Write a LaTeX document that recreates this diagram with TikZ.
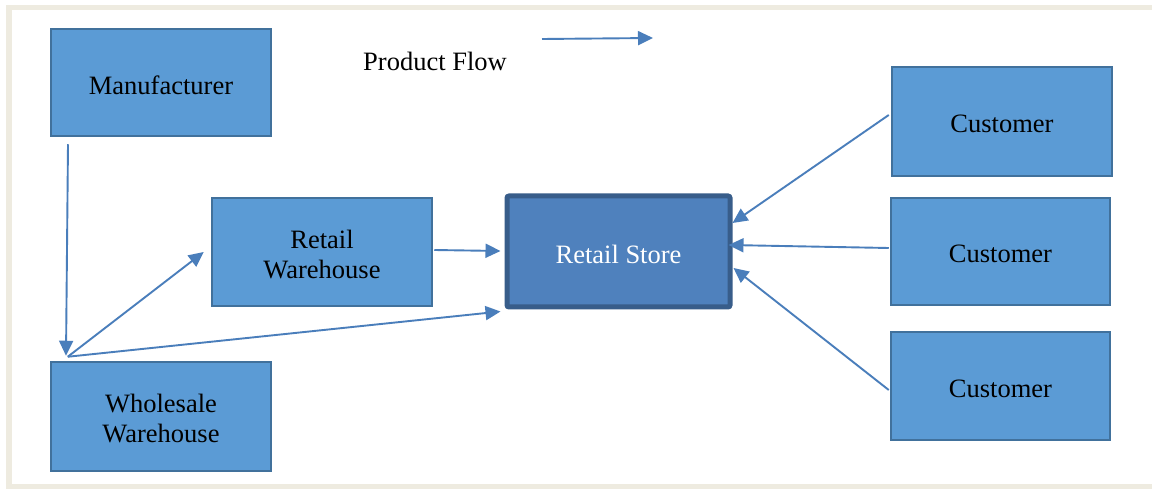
\documentclass[tikz,border=0pt]{standalone}
\usepackage{fontspec}
\setmainfont{Liberation Serif}
\usetikzlibrary{arrows.meta,calc}

\definecolor{boxfill}{HTML}{5B9BD5}
\definecolor{boxline}{HTML}{41719C}
\definecolor{storefill}{HTML}{4F81BD}
\definecolor{storeline}{HTML}{385D8A}
\definecolor{flowline}{HTML}{4A7EBB}
\definecolor{framebeige}{HTML}{EEEBE0}

% lower the ink of a text line a little without changing its box
\newcommand{\lowr}[1]{\raisebox{-2.5pt}[\height][\depth]{#1}}

\tikzset{
  unit/.style={rectangle, fill=boxfill, draw=boxline, line width=2.5pt,
    align=center, text=black, inner sep=0pt,
    font=\fontsize{26.5}{30}\selectfont},
  store/.style={unit, fill=storefill, draw=storeline, line width=5pt,
    rounded corners=2pt, text=white},
  flow/.style={draw=flowline, line width=1.9pt,
    -{Triangle[length=15pt,width=14pt]}},
  legendtext/.style={font=\fontsize{26.5}{30}\selectfont, inner sep=0pt}
}

\begin{document}
\begin{tikzpicture}[x=1pt,y=-1pt]
  \useasboundingbox (0,0) rectangle (1152,489);

  % page frame
  \fill[framebeige] (6,5) rectangle (1152,489);
  \fill[white] (12,10) rectangle (1152,484);

  % boxes
  \node[unit, minimum width=220pt, minimum height=107pt] (man) at (161,82.5) {\lowr{Manufacturer}};
  \node[unit, minimum width=220pt, minimum height=108pt] (rw) at (322,252) {\lowr{Retail}\\\lowr{Warehouse}};
  \node[store, minimum width=223pt, minimum height=111pt] (rs) at (618.5,251.5) {\lowr{Retail Store}};
  \node[unit, minimum width=220pt, minimum height=109pt] (ww) at (161,416.5) {\lowr{Wholesale}\\\lowr{Warehouse}};
  \node[unit, minimum width=220pt, minimum height=109pt] (c1) at (1002,121.5) {\lowr{Customer}};
  \node[unit, minimum width=219pt, minimum height=107pt] (c2) at (1000.5,251.5) {\lowr{Customer}};
  \node[unit, minimum width=219pt, minimum height=108pt] (c3) at (1000.5,386) {\lowr{Customer}};

  % legend
  \node[legendtext] (pf) at (435,61) {Product Flow};
  \coordinate (legA) at (542,39);
  \coordinate (legB) at (653,38);
  \draw[flow] (legA) -- (legB);

  % product flow connectors
  \draw[flow] ($(man.south)+(-93,7)$) -- ($(ww.north)+(-95,-5)$);
  \draw[flow] ($(ww.north west)+(18,-4)$) -- ($(rw.west)+(-7,0)$);
  \draw[flow] ($(ww.north west)+(18,-4)$) -- ($(rs.south west)+(-4,2)$);
  \draw[flow] ($(rw.east)+(1,-2)$) -- ($(rs.west)+(-4,-0.5)$);
  \draw[flow] ($(c1.west)+(-2,-6.5)$) -- ($(rs.east)+(0,-28.5)$);
  \draw[flow] ($(c2.west)+(-1,-3.5)$) -- ($(rs.east)+(-4,-6.5)$);
  \draw[flow] ($(c3.west)+(-1,4)$) -- ($(rs.east)+(1,16.5)$);
\end{tikzpicture}
\end{document}
